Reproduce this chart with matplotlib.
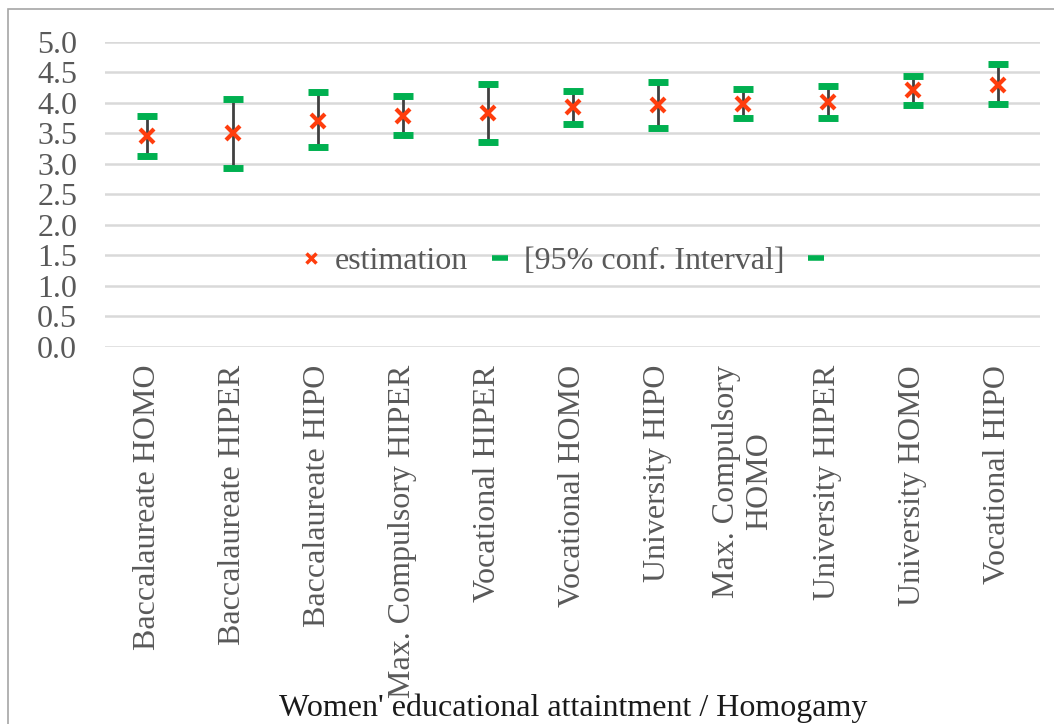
import matplotlib.pyplot as plt
from matplotlib.lines import Line2D
from matplotlib.patches import Rectangle

plt.rcParams['font.family'] = ['Liberation Serif', 'DejaVu Serif']

# Categories and values
categories = ['Baccalaureate HOMO', 'Baccalaureate HIPER', 'Baccalaureate HIPO',
              'Max. Compulsory HIPER', 'Vocational HIPER', 'Vocational HOMO',
              'University HIPO', 'Max. Compulsory\nHOMO', 'University HIPER',
              'University HOMO', 'Vocational HIPO']
estimation = [3.46, 3.50, 3.70, 3.79, 3.84, 3.93, 3.96, 3.99, 4.02, 4.21, 4.30]
upper = [3.78, 4.07, 4.18, 4.11, 4.31, 4.20, 4.34, 4.23, 4.28, 4.45, 4.64]
lower = [3.13, 2.94, 3.27, 3.48, 3.36, 3.66, 3.59, 3.76, 3.76, 3.97, 3.99]
y_ticks = [0.0, 0.5, 1.0, 1.5, 2.0, 2.5, 3.0, 3.5, 4.0, 4.5, 5.0]

red = '#ff3d0d'
green = '#00b050'
gray_text = '#595959'

fig = plt.figure(figsize=(10.54, 7.24), dpi=100)
ax = fig.add_axes([0.0996, 0.521, 0.8875, 0.421])

x = list(range(len(categories)))

# vertical lines between bounds
ax.vlines(x, lower, upper, color='#404040', linewidth=2, zorder=2)
# bounds as green dash markers
ax.plot(x, upper, linestyle='none', marker='_', markersize=15, markeredgewidth=5,
        color=green, zorder=3)
ax.plot(x, lower, linestyle='none', marker='_', markersize=15, markeredgewidth=5,
        color=green, zorder=3)
# estimation points
ax.plot(x, estimation, linestyle='none', marker='x', markersize=10, markeredgewidth=3,
        color=red, zorder=4)

ax.set_xlim(-0.5, len(categories) - 0.5)
ax.set_ylim(0, 5)
ax.set_yticks(y_ticks)
ax.set_yticklabels([f'{v:.1f}' for v in y_ticks])
ax.yaxis.grid(True, color='#d9d9d9', linewidth=1.8)
ax.set_axisbelow(True)
for s in ax.spines.values():
    s.set_visible(False)
ax.tick_params(axis='y', length=0, pad=20, labelsize=23, labelcolor=gray_text)
ax.tick_params(axis='x', length=0, pad=13, labelsize=23, labelcolor=gray_text)
ax.set_xticks(x)
ax.set_xticklabels(categories, rotation=90, va='top', ha='center', multialignment='center')

ax.set_xlabel("Women' educational attaintment / Homogamy", fontsize=23, color='#1a1a1a')
ax.xaxis.set_label_coords(0.5, -1.186)
ax.xaxis.label.set_va('center')

handles = [
    Line2D([], [], linestyle='none', marker='x', markersize=7, markeredgewidth=2.5, color=red),
    Line2D([], [], linestyle='none', marker='_', markersize=11, markeredgewidth=4, color=green),
    Line2D([], [], linestyle='none', marker='_', markersize=11, markeredgewidth=4, color=green),
]
leg = ax.legend(handles, ['estimation', '[95% conf. Interval]', ''], ncol=3,
                loc='center', bbox_to_anchor=(0.497, 0.28), frameon=False,
                fontsize=23, handlelength=0.7, handletextpad=0.4, columnspacing=0.65,
                labelcolor=gray_text)

# chart area border
fig.patches.append(Rectangle((8 / 1054, -0.01), 1.5, 1 - 9 / 724 + 0.01,
                             transform=fig.transFigure, fill=False,
                             edgecolor='#a6a6a6', linewidth=1.2))

fig.savefig('out.png', dpi=100)
